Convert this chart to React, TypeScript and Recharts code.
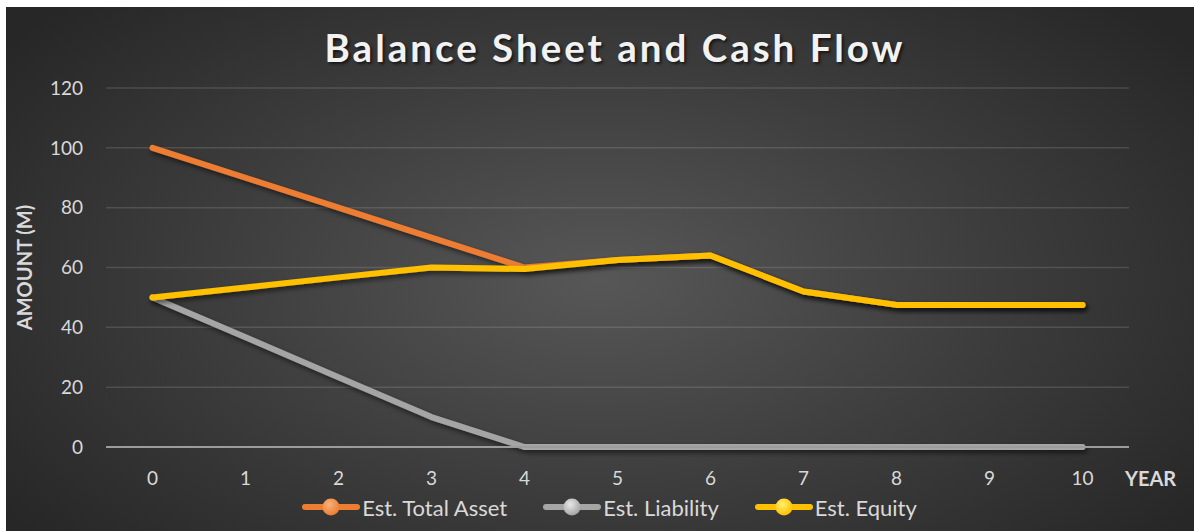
import { LineChart, Line, XAxis, YAxis, CartesianGrid, Legend } from "recharts"

const years = ["0", "1", "2", "3", "4", "5", "6", "7", "8", "9", "10"]
const totalAsset = [100, 90, 80, 70, 60, 62.5, 64, 52, 47.5, 47.5, 47.5]
const liability = [50, 36.7, 23.3, 10, 0, 0, 0, 0, 0, 0, 0]
const equity = [50, 53.3, 56.7, 60, 59.5, 62.5, 64, 52, 47.5, 47.5, 47.5]
const yTicks = [0, 20, 40, 60, 80, 100, 120]

const data = years.map((year, i) => ({
  year,
  asset: totalAsset[i],
  liability: liability[i],
  equity: equity[i],
}))

const series = [
  { key: "asset", name: "Est. Total Asset", color: "#ED7D31", light: "#F7B27E" },
  { key: "liability", name: "Est. Liability", color: "#A5A5A5", light: "#E8E8E8" },
  { key: "equity", name: "Est. Equity", color: "#FFC000", light: "#FFF070" },
]

const FONT = "Lato, 'Open Sans', sans-serif"

function LegendContent() {
  return (
    <div style={{ display: "flex", justifyContent: "center", alignItems: "center", height: 30, fontFamily: FONT, paddingLeft: 120 }}>
      {series.map((s) => (
        <div key={s.key} style={{ display: "flex", alignItems: "center", marginRight: 36 }}>
          <svg width={58} height={22}>
            <defs>
              <radialGradient id={`sphere-${s.key}`} cx="40%" cy="35%" r="65%">
                <stop offset="0%" stopColor={s.light} />
                <stop offset="100%" stopColor={s.color} />
              </radialGradient>
            </defs>
            <line x1={3} y1={11} x2={55} y2={11} stroke={s.color} strokeWidth={6} strokeLinecap="round" />
            <circle cx={29} cy={11} r={8.5} fill={`url(#sphere-${s.key})`} />
          </svg>
          <span style={{ color: "#d9d9d9", fontSize: 22, marginLeft: 2 }}>{s.name}</span>
        </div>
      ))}
    </div>
  )
}

export default function App() {
  return (
    <div
      style={{
        position: "absolute",
        left: 6,
        top: 7,
        width: 1188,
        height: 524,
        background: "radial-gradient(ellipse 62% 75% at 50% 52%, #575757 0%, #3c3c3c 55%, #272727 100%)",
        fontFamily: FONT,
      }}
    >
      <div
        style={{
          position: "absolute",
          left: 0,
          right: 0,
          top: 17,
          textAlign: "center",
          color: "#f2f2f2",
          fontSize: 38.5,
          fontWeight: 700,
          letterSpacing: 3,
          paddingLeft: 30,
          textShadow: "2px 2px 3px rgba(0,0,0,0.6)",
        }}
      >
        Balance Sheet and Cash Flow
      </div>
      <LineChart width={1188} height={524} data={data} margin={{ top: 81, right: 65, left: 0, bottom: 4 }}>
        <defs>
          <filter id="lineShadow" x="-5%" y="-20%" width="110%" height="140%">
            <feDropShadow dx="2" dy="3" stdDeviation="2.5" floodColor="#000" floodOpacity="0.55" />
          </filter>
        </defs>
        <CartesianGrid vertical={false} stroke="rgba(217,217,217,0.16)" strokeWidth={1.5} />
        <XAxis
          dataKey="year"
          scale="band"
          height={50}
          tickSize={0}
          tickMargin={25}
          axisLine={{ stroke: "#9c9c9c", strokeWidth: 2 }}
          tick={{ fill: "#d9d9d9", fontSize: 19, fontFamily: FONT }}
          label={{ value: "YEAR", position: "right", offset: -4, dy: 7, fill: "#d9d9d9", fontSize: 20, fontWeight: 700, fontFamily: FONT }}
        />
        <YAxis
          width={100}
          domain={[0, 120]}
          ticks={yTicks}
          axisLine={false}
          tickSize={0}
          tickMargin={23}
          tick={{ fill: "#d9d9d9", fontSize: 19, fontFamily: FONT }}
          label={{
            value: "AMOUNT (M)",
            angle: -90,
            position: "insideLeft",
            offset: 19,
            fill: "#d9d9d9",
            fontSize: 20,
            fontWeight: 700,
            fontFamily: FONT,
            style: { textAnchor: "middle" },
          }}
        />
        <Legend verticalAlign="bottom" content={<LegendContent />} wrapperStyle={{ height: 30, top: 485, bottom: "auto" }} />
        {series.map((s) => (
          <Line
            key={s.key}
            type="linear"
            dataKey={s.key}
            name={s.name}
            stroke={s.color}
            strokeWidth={6}
            strokeLinecap="round"
            strokeLinejoin="round"
            dot={false}
            activeDot={false}
            filter="url(#lineShadow)"
            isAnimationActive={false}
          />
        ))}
      </LineChart>
    </div>
  )
}
